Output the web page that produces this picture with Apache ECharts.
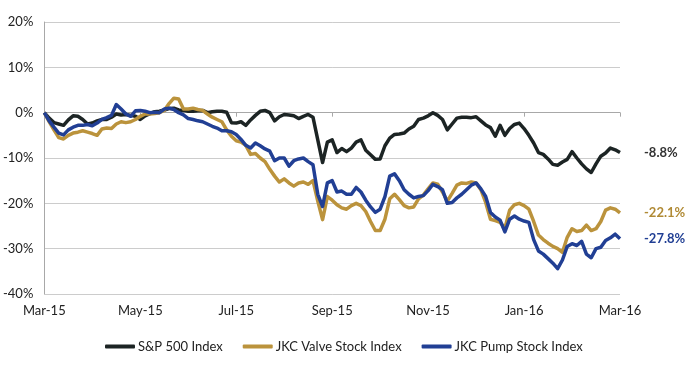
<!DOCTYPE html>
<html>
<head>
<meta charset="utf-8">
<script src="https://cdn.jsdelivr.net/npm/echarts@6/dist/echarts.min.js"></script>
<style>html,body{margin:0;padding:0;background:#fff}#c{width:700px;height:370px}</style>
</head>
<body>
<div id="c"></div>
<script>
const tickLabels = ['Mar-15','May-15','Jul-15','Sep-15','Nov-15','Jan-16','Mar-16'];
const seriesNames = ['S&P 500 Index','JKC Valve Stock Index','JKC Pump Stock Index'];
const sp500 = [0,-1.2,-2.2,-2.5,-2.8,-1.6,-0.7,-0.8,-1.5,-2.5,
  -2.3,-1.8,-1.5,-1.5,-1.0,-0.3,-0.5,-0.4,-0.6,-0.8,
  -1.5,-0.7,-0.2,0.2,0.3,0.6,0.9,1.0,0.6,0.5,
  0.3,0.3,0.4,0.5,0.0,0.2,0.3,0.3,0.1,-2.2,
  -2.3,-2.0,-2.8,-1.6,-0.6,0.3,0.5,0.0,-1.8,-0.9,
  -0.4,-0.5,-0.7,-1.3,-0.8,-0.4,-1.0,-6.0,-11.0,-6.5,
  -6.0,-8.8,-7.9,-8.6,-7.8,-6.5,-6.0,-8.3,-9.3,-10.3,
  -10.2,-7.3,-5.6,-4.8,-4.7,-4.5,-3.6,-3.0,-1.5,-1.2,
  -0.7,0.0,-0.6,-1.5,-3.8,-2.5,-1.2,-1.0,-1.0,-1.1,
  -0.9,-1.8,-2.7,-3.3,-5.2,-2.8,-5.0,-3.5,-2.6,-2.3,
  -3.5,-5.0,-6.7,-8.8,-9.2,-10.2,-11.4,-11.6,-10.9,-10.3,
  -8.6,-10.0,-11.3,-12.4,-13.2,-11.3,-9.6,-8.9,-7.8,-8.2,-8.8];
const valve = [0,-2.0,-3.8,-5.5,-5.8,-5.0,-4.5,-4.3,-4.0,-4.3,
  -4.6,-5.0,-3.6,-3.4,-3.5,-2.5,-2.0,-2.2,-2.0,-1.5,
  -0.8,-0.3,-0.3,-0.2,0.0,0.5,2.0,3.2,3.0,0.8,
  0.8,1.0,0.7,0.5,-0.3,-1.0,-1.5,-2.0,-3.8,-5.2,
  -6.2,-6.5,-7.2,-9.2,-9.0,-10.0,-10.8,-12.5,-14.0,-15.3,
  -14.6,-15.5,-16.2,-15.5,-15.3,-15.8,-15.0,-19.5,-23.6,-18.5,
  -19.3,-20.3,-21.0,-21.3,-20.5,-20.0,-20.5,-21.8,-24.0,-26.0,
  -26.0,-23.5,-19.0,-18.0,-19.2,-20.5,-21.0,-20.8,-19.0,-18.2,
  -16.8,-15.5,-15.8,-17.5,-19.5,-17.8,-16.0,-15.5,-15.6,-15.3,
  -15.5,-17.0,-19.8,-23.5,-23.8,-24.2,-25.5,-21.5,-20.3,-20.0,
  -20.5,-21.3,-24.0,-27.0,-28.0,-28.8,-29.5,-30.0,-30.8,-27.5,
  -25.6,-26.2,-26.0,-24.8,-26.0,-25.6,-24.0,-21.5,-21.0,-21.3,-22.1];
const pump = [0,-1.8,-3.2,-4.5,-4.9,-3.8,-3.2,-2.8,-2.8,-2.6,
  -2.9,-2.3,-1.5,-1.1,-0.6,1.8,0.8,-0.3,-0.8,0.4,
  0.5,0.3,0.0,0.1,0.0,0.8,1.0,0.7,0.0,-0.5,
  -1.3,-1.5,-1.8,-2.0,-2.5,-3.0,-3.4,-4.0,-4.0,-4.2,
  -4.8,-5.9,-7.2,-7.8,-6.7,-7.3,-8.0,-8.5,-10.6,-10.0,
  -10.0,-11.8,-10.6,-10.2,-10.0,-10.8,-11.5,-18.0,-20.7,-15.5,
  -15.0,-17.5,-17.3,-18.0,-18.0,-16.5,-17.5,-19.3,-20.8,-22.0,
  -21.3,-18.5,-14.0,-13.5,-15.0,-17.0,-18.0,-18.8,-18.5,-18.3,
  -17.2,-15.8,-16.3,-17.0,-20.0,-19.8,-18.8,-18.0,-17.0,-16.0,
  -15.5,-16.8,-18.5,-22.0,-23.0,-23.7,-26.3,-23.5,-22.8,-23.5,
  -23.9,-24.2,-28.0,-30.5,-31.2,-32.2,-33.2,-34.4,-32.5,-29.5,
  -28.9,-29.3,-28.4,-31.2,-32.0,-30.0,-29.7,-28.2,-27.6,-26.8,-27.8];
const colors = ['#1c2424','#bb933c','#213f94'];
const labelColors = ['#333333','#b08a35','#213f94'];
const categories = sp500.map((_, i) => String(i));
const FONT = 'Lato, "Open Sans", sans-serif';

const chart = echarts.init(document.getElementById('c'), null, {renderer: 'canvas'});
const mk = (name, data, idx) => ({
  name: name, type: 'line', data: data, showSymbol: false, symbol: 'none',
  lineStyle: {width: 3.5, color: colors[idx], join: 'round'}, itemStyle: {color: colors[idx]},
  emphasis: {disabled: true},
  endLabel: {show: true, distance: 24, color: labelColors[idx], fontFamily: FONT,
    fontSize: 13, fontWeight: 'bold', formatter: p => p.value.toFixed(1) + '%'}
});
chart.setOption({
  animation: false,
  color: colors,
  grid: {left: 42, right: 80, top: 22, bottom: 76, containLabel: false},
  legend: {
    bottom: 12, left: 100, itemWidth: 30, itemHeight: 4, itemGap: 20,
    icon: 'roundRect',
    textStyle: {fontFamily: FONT, fontSize: 13, color: '#222', padding: [0, 0, 0, -2]},
    data: seriesNames
  },
  xAxis: {
    type: 'category', data: categories, boundaryGap: false,
    axisLine: {lineStyle: {color: '#a8a8a8', width: 1}},
    axisTick: {show: true, interval: 19, length: 4, lineStyle: {color: '#a8a8a8'}},
    axisLabel: {interval: 19, margin: 10, color: '#222', fontFamily: FONT, fontSize: 13,
      formatter: (v, i) => tickLabels[Math.round(i / 20)] || ''},
    splitLine: {show: false}
  },
  yAxis: {
    type: 'value', min: -40, max: 20, interval: 10,
    axisLine: {show: true, lineStyle: {color: '#a8a8a8'}},
    axisTick: {show: false},
    axisLabel: {margin: 11, color: '#222', fontFamily: FONT, fontSize: 13, formatter: '{value}%'},
    splitLine: {lineStyle: {color: '#cccccc', width: 1}}
  },
  series: [mk(seriesNames[0], sp500, 0), mk(seriesNames[1], valve, 1), mk(seriesNames[2], pump, 2)]
});
</script>
</body>
</html>
